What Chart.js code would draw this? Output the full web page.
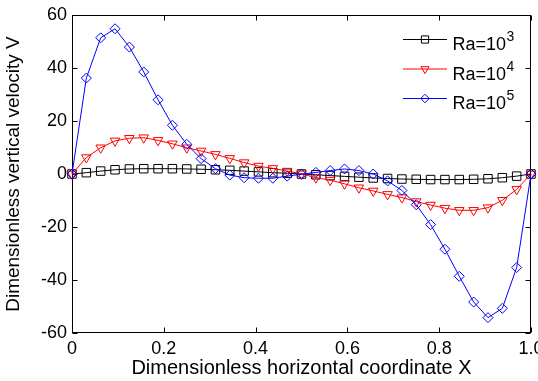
<!DOCTYPE html>
<html>
<head>
<meta charset="utf-8">
<script src="https://cdn.jsdelivr.net/npm/chart.js@4.4.0/dist/chart.umd.min.js"></script>
<style>
  html, body { margin: 0; padding: 0; background: #fff; }
  canvas { display: block; }
</style>
</head>
<body>
<canvas id="chart" width="538" height="381"></canvas>
<script>
// Datos
const xCoords = [0, 0.03125, 0.0625, 0.09375, 0.125, 0.15625, 0.1875, 0.21875, 0.25, 0.28125,
  0.3125, 0.34375, 0.375, 0.40625, 0.4375, 0.46875, 0.5, 0.53125, 0.5625, 0.59375, 0.625,
  0.65625, 0.6875, 0.71875, 0.75, 0.78125, 0.8125, 0.84375, 0.875, 0.90625, 0.9375, 0.96875, 1];

const vRa3 = [0, 0.5, 1.1, 1.6, 1.9, 2.0, 2.0, 2.0, 1.9, 1.8, 1.6, 1.4, 1.1, 0.8, 0.5, 0.3,
  0, -0.3, -0.6, -0.9, -1.2, -1.5, -1.7, -1.9, -2.0, -2.1, -2.1, -2.1, -2.0, -1.8, -1.4, -0.8, 0];

const vRa4 = [0, 6.2, 9.9, 12.5, 13.5, 13.7, 12.7, 11.4, 9.9, 8.7, 7.4, 5.9, 4.3, 3.0, 2.1, 1.1,
  0.1, -1.4, -2.3, -3.7, -5.2, -6.4, -7.7, -8.9, -10.4, -11.7, -12.9, -13.7, -13.7, -12.7, -9.9, -5.8, 0];

const vRa5 = [0, 36.2, 51.4, 54.8, 47.9, 38.5, 28.0, 18.4, 11.2, 5.8, 2.0, -0.4, -1.4, -1.6, -1.6, -0.8,
  -0.1, 0.6, 1.3, 1.9, 1.3, 0, -2.6, -6.2, -11.6, -19.1, -28.4, -38.6, -48.3, -54.2, -50.7, -35.3, 0];

const seriesLabels = ['Ra=10^3', 'Ra=10^4', 'Ra=10^5'];
const xTitle = 'Dimensionless horizontal coordinate X';
const yTitle = 'Dimensionless vertical velocity V';

const FONT = 'Liberation Sans, Arial, Helvetica, sans-serif';

function toPoints(vals) {
  return vals.map((v, i) => ({ x: xCoords[i], y: v }));
}

// Marcador simple para la leyenda
function drawMarker(ctx, style, x, y, r, rot) {
  ctx.beginPath();
  if (style === 'rect') {
    const s = Math.SQRT1_2 * r;
    ctx.rect(x - s, y - s, 2 * s, 2 * s);
  } else if (style === 'rectRot') {
    ctx.moveTo(x, y - r); ctx.lineTo(x + r, y); ctx.lineTo(x, y + r); ctx.lineTo(x - r, y);
    ctx.closePath();
  } else if (style === 'triangle') {
    let a = (rot || 0) * Math.PI / 180;
    ctx.moveTo(x + Math.sin(a) * r, y - Math.cos(a) * r);
    a += 2 * Math.PI / 3;
    ctx.lineTo(x + Math.sin(a) * r, y - Math.cos(a) * r);
    a += 2 * Math.PI / 3;
    ctx.lineTo(x + Math.sin(a) * r, y - Math.cos(a) * r);
    ctx.closePath();
  }
  ctx.stroke();
}

// Marco tipo MATLAB con ticks hacia dentro
const framePlugin = {
  id: 'frame',
  beforeDatasetsDraw(chart) {
    const { ctx, chartArea: a, scales: { x, y } } = chart;
    const L = Math.round(a.left) + 0.5, R = Math.round(a.right) - 0.5;
    const T = Math.round(a.top) + 0.5, B = Math.round(a.bottom) - 0.5;
    ctx.save();
    ctx.strokeStyle = '#000';
    ctx.lineWidth = 1;
    ctx.strokeRect(L, T, R - L, B - T);
    ctx.beginPath();
    x.ticks.forEach(t => {
      const px = Math.round(x.getPixelForValue(t.value)) + 0.5;
      ctx.moveTo(px, B); ctx.lineTo(px, B - 5);
      ctx.moveTo(px, T); ctx.lineTo(px, T + 5);
    });
    y.ticks.forEach(t => {
      const py = Math.round(y.getPixelForValue(t.value)) + 0.5;
      ctx.moveTo(L, py); ctx.lineTo(L + 5, py);
      ctx.moveTo(R, py); ctx.lineTo(R - 5, py);
    });
    ctx.stroke();
    ctx.restore();
  }
};

// Leyenda propia (para poder poner el exponente)
const legendPlugin = {
  id: 'supLegend',
  afterDraw(chart) {
    const { ctx } = chart;
    const x0 = 403, x1 = 447, textX = 452.5, top = 39, gap = 29.5;
    ctx.save();
    chart.data.datasets.forEach((ds, i) => {
      const yy = top + i * gap;
      ctx.strokeStyle = ds.borderColor;
      ctx.lineWidth = 1;
      ctx.beginPath();
      ctx.moveTo(x0, yy + 0.5); ctx.lineTo(x1, yy + 0.5);
      ctx.stroke();
      drawMarker(ctx, ds.pointStyle, (x0 + x1) / 2, yy + 0.5, ds.pointRadius * 0.85, ds.pointRotation);
      const [base, exp] = ds.label.split('^');
      ctx.fillStyle = '#000';
      ctx.textBaseline = 'alphabetic';
      ctx.textAlign = 'left';
      ctx.font = '18px ' + FONT;
      ctx.fillText(base, textX, yy + 11);
      const w = ctx.measureText(base).width;
      ctx.font = '14px ' + FONT;
      ctx.fillText(exp, textX + w + 0.5, yy + 2);
    });
    ctx.restore();
  }
};

const colors = ['#000000', '#ff0000', '#0000ff'];

new Chart(document.getElementById('chart'), {
  type: 'line',
  data: {
    datasets: [
      {
        label: seriesLabels[0], data: toPoints(vRa3), order: 3,
        borderColor: colors[0], pointBorderColor: colors[0], pointBackgroundColor: 'rgba(0,0,0,0)',
        pointStyle: 'rect', pointRadius: 6, pointBorderWidth: 1, borderWidth: 1, clip: false
      },
      {
        label: seriesLabels[1], data: toPoints(vRa4), order: 2,
        borderColor: colors[1], pointBorderColor: colors[1], pointBackgroundColor: 'rgba(0,0,0,0)',
        pointStyle: 'triangle', pointRotation: 180, pointRadius: 5.5, pointBorderWidth: 1, borderWidth: 1, clip: false
      },
      {
        label: seriesLabels[2], data: toPoints(vRa5), order: 1,
        borderColor: colors[2], pointBorderColor: colors[2], pointBackgroundColor: 'rgba(0,0,0,0)',
        pointStyle: 'rectRot', pointRadius: 5, pointBorderWidth: 1, borderWidth: 1, clip: false
      }
    ]
  },
  options: {
    responsive: false,
    animation: false,
    devicePixelRatio: 1,
    layout: { padding: { top: 15, right: 2, left: 0, bottom: 0 } },
    elements: { line: { tension: 0 } },
    plugins: { legend: { display: false }, tooltip: { enabled: false } },
    scales: {
      x: {
        type: 'linear', min: 0, max: 1,
        grid: { display: false, drawTicks: false },
        border: { display: false },
        ticks: { stepSize: 0.2, color: '#000', padding: 5, maxRotation: 0, font: { family: FONT, size: 18 } },
        title: { display: true, text: xTitle, color: '#000', padding: { top: 0, bottom: 1 }, font: { family: FONT, size: 20 } },
        afterFit(scale) {
          scale.height = 48;
          scale.paddingLeft = 0;
          scale.paddingRight = 0;
        }
      },
      y: {
        min: -60, max: 60,
        grid: { display: false, drawTicks: false },
        border: { display: false },
        ticks: { stepSize: 20, color: '#000', padding: 5, font: { family: FONT, size: 18 } },
        title: { display: true, text: yTitle, color: '#000', padding: { top: 2, bottom: 0 }, font: { family: FONT, size: 19 } },
        afterFit(scale) {
          scale.width = 72;
          scale.paddingTop = 0;
          scale.paddingBottom = 0;
        }
      }
    }
  },
  plugins: [framePlugin, legendPlugin]
});
</script>
</body>
</html>
